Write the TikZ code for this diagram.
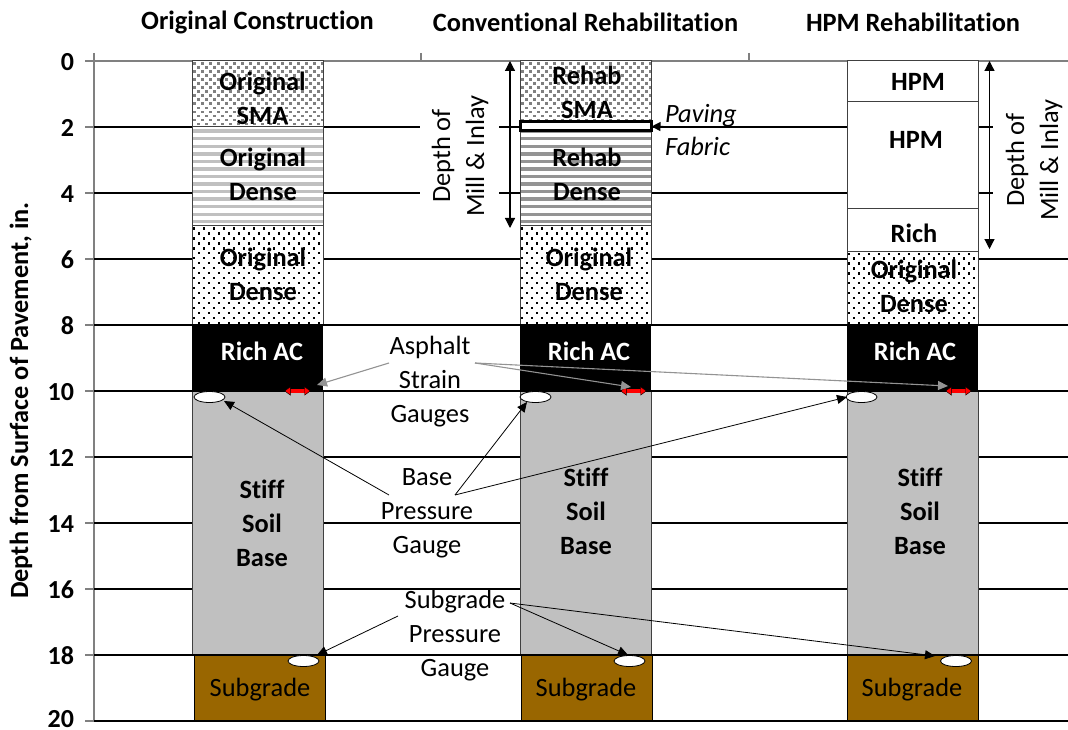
\documentclass[tikz,border=0pt]{standalone}
\usepackage{fontspec}
\setmainfont[Ligatures=NoCommon]{Carlito}
\usetikzlibrary{arrows.meta,shapes.geometric}
\definecolor{soil}{HTML}{996600}
\definecolor{basegray}{HTML}{C0C0C0}
\definecolor{framegray}{HTML}{808080}
\tikzset{
  every node/.style={inner sep=0pt,outer sep=0pt,align=center},
  title/.style={font=\fontsize{26.4}{28}\selectfont\bfseries},
  ticklab/.style={font=\fontsize{26}{28}\selectfont\bfseries,anchor=east},
  lab/.style={font=\fontsize{26.4}{34}\selectfont},
  blab/.style={font=\fontsize{26.4}{34}\selectfont\bfseries},
  ilab/.style={font=\fontsize{26.4}{33}\selectfont\itshape,align=left},
  gridln/.style={black,line width=1.4pt},
  axisline/.style={framegray,line width=1.1pt},
  layer/.style={draw=black!75,line width=1pt},
  leader/.style={black,line width=.8pt,-{Triangle[length=10pt,width=9pt]}},
  grayleader/.style={gray!85,line width=1.1pt,-{Triangle[length=10pt,width=9pt]}},
  depth/.style={black,line width=1.2pt,{Triangle[length=10pt,width=10pt]}-{Triangle[length=10pt,width=10pt]}},
  strain/.style={red,line width=3.4pt,{Triangle[length=6pt,width=9pt,fill=red,color=black,line width=.4pt]}-{Triangle[length=6pt,width=9pt,fill=red,color=black,line width=.4pt]}},
  gaugeell/.style={draw=black,fill=white,line width=.8pt,ellipse,minimum width=31pt,minimum height=11pt},
}
% x0 x1 y0 y1
\newcommand{\checklayer}[4]{%
  \begin{scope}\clip (#1,#3) rectangle (#2,#4);
  \fill[white] (#1,#3) rectangle (#2,#4);
  \pgfmathsetmacro{\nrows}{int((#4-#3)/4.05)}
  \foreach \r in {0,...,\nrows}{
    \pgfmathsetmacro{\off}{mod(\r,2)*4}
    \foreach \c in {0,...,17}{
      \fill[framegray] ({#1+1+\off+8*\c},{#3+1+4.05*\r}) rectangle +(3.4,2.6);
    }}
  \end{scope}
  \draw[layer] (#1,#3) rectangle (#2,#4);}
\newcommand{\stripelayer}[5]{%
  \begin{scope}\clip (#1,#3) rectangle (#2,#4);
  \fill[white] (#1,#3) rectangle (#2,#4);
  \foreach \r in {0,...,13}{
    \fill[#5] (#1,{#3+2.5+7.55*\r}) rectangle (#2,{#3+5.9+7.55*\r});
  }
  \end{scope}
  \draw[layer] (#1,#3) rectangle (#2,#4);}
\newcommand{\dotlayer}[4]{%
  \begin{scope}\clip (#1,#3) rectangle (#2,#4);
  \fill[white] (#1,#3) rectangle (#2,#4);
  \pgfmathsetmacro{\nrows}{int((#4-#3)/4.95)}
  \foreach \r in {0,...,\nrows}{
    \pgfmathsetmacro{\off}{mod(\r,2)*5}
    \foreach \c in {0,...,14}{
      \fill[black] ({#1+1+\off+10*\c},{#3+1.5+4.95*\r}) rectangle +(2.2,2.2);
    }}
  \end{scope}
  \draw[layer] (#1,#3) rectangle (#2,#4);}
\begin{document}
\begin{tikzpicture}[x=1pt,y=-1pt]
\useasboundingbox (0,0) rectangle (1068,730);
\fill[white] (0,0) rectangle (1068,730);
% top axis and frame
\draw[axisline] (85,61) -- (1068,61);
\draw[axisline] (94,53) -- (94,721);
\draw[axisline] (421,53) -- (421,61);
\draw[axisline] (749,53) -- (749,61);
% grid lines
\foreach \d in {6,8,...,20}{
  \draw[gridln] (94,61+33*\d) -- (1068,61+33*\d);
}
\foreach \d in {2,4}{
  \draw[gridln] (94,61+33*\d) -- (420,61+33*\d);
  \draw[gridln] (499,61+33*\d) -- (993,61+33*\d);
}
\foreach \d in {2,4,...,20}{
  \draw[axisline] (85,61+33*\d) -- (94,61+33*\d);
}
\foreach \d in {0,2,...,18}{
  \node[ticklab] (tick\d) at (74,62+33*\d) {\d};
}
\node[ticklab] (tick20) at (74,719) {20};
\node[font=\fontsize{26.3}{28}\selectfont\bfseries,rotate=90] (ytitle) at (21,400.5) {Depth from Surface of Pavement, in.};
\node[title] (t1) at (257.5,22) {Original Construction};
\node[title] (t2) at (585.5,22) {Conventional Rehabilitation};
\node[title] (t3) at (913,22) {HPM Rehabilitation};
% column 1
\checklayer{192}{323}{61}{127}
\stripelayer{192}{323}{127}{226}{basegray}
\dotlayer{192}{323}{226}{325}
\fill[black] (192,325) rectangle (323,391);
\draw[layer,fill=basegray] (192,391) rectangle (323,655);
\draw[black,line width=1pt,fill=soil] (194,655) rectangle (325,721);
% column 2
\checklayer{520}{651}{61}{127}
\stripelayer{520}{651}{127}{226}{black!42}
\dotlayer{520}{651}{226}{325}
\fill[black] (520,325) rectangle (651,391);
\draw[layer,fill=basegray] (520,391) rectangle (651,655);
\draw[black,line width=1pt,fill=soil] (521,655) rectangle (652,721);
% column 3
\draw[layer,fill=white] (847,61) rectangle (978,102);
\draw[layer,fill=white] (847,102) rectangle (978,209);
\draw[layer,fill=white] (847,209) rectangle (978,251);
\dotlayer{847}{978}{251}{325}
\fill[black] (847,325) rectangle (978,391);
\draw[layer,fill=basegray] (847,391) rectangle (978,655);
\draw[black,line width=1pt,fill=soil] (847,655) rectangle (978,721);
% redraw grid at layer borders
\foreach \d in {8,10,18,20}{
  \draw[gridln] (94,61+33*\d) -- (1068,61+33*\d);
}
% paving fabric
\node[draw=black,fill=white,line width=3pt,minimum width=131pt,minimum height=9pt] (fabric) at (586,126.5) {};
% layer labels
\node[blab] (a1) at (262.5,98.5) {Original\\SMA};
\node[blab] (a2) at (263,174.5) {Original\\Dense};
\node[blab] (a3) at (263,274.5) {Original\\Dense};
\node[blab,text=white] (a4) at (262,351.5) {Rich AC};
\node[blab] (a5) at (262,523.5) {Stiff\\Soil\\Base};
\node[lab] (a6) at (260,690) {Subgrade};
\node[blab] (b1) at (587,92.5) {Rehab\\SMA};
\node[blab] (b2) at (587,174.5) {Rehab\\Dense};
\node[blab] (b3) at (589,274.5) {Original\\Dense};
\node[blab,text=white] (b4) at (589,351.5) {Rich AC};
\node[blab] (b5) at (586,511.5) {Stiff\\Soil\\Base};
\node[lab] (b6) at (586,690) {Subgrade};
\node[blab] (c1) at (918,82) {HPM};
\node[blab] (c2) at (916,140) {HPM};
\node[blab] (c3) at (914,233) {Rich};
\node[blab] (c4) at (914,286.5) {Original\\Dense};
\node[blab,text=white] (c5) at (915,351.5) {Rich AC};
\node[blab] (c6) at (920,511.5) {Stiff\\Soil\\Base};
\node[lab] (c7) at (912,690) {Subgrade};
% gauges
\foreach \n/\x/\y in {p1/209.5/397,p2/535.5/397,p3/861.5/397,s1/303.5/661,s2/629.5/661,s3/956/661}{
  \node[gaugeell] (\n) at (\x,\y) {};
}
\foreach \n/\x in {g1/297.5,g2/633.5,g3/958.5}{
  \coordinate (\n l) at (\x-13,391);
  \coordinate (\n r) at (\x+13,391);
  \draw[strain] (\n l) -- (\n r);
}
% callouts
\node[lab] (asg) at (430,381.5) {Asphalt\\Strain\\Gauges};
\node[lab] (bpg) at (427,513) {Base\\Pressure\\Gauge};
\node[lab] (spg) at (455,636) {Subgrade\\Pressure\\Gauge};
\coordinate (asgL) at (389,363);
\coordinate (asgR) at (475,363);
\coordinate (bpgL) at (389,495);
\coordinate (bpgR) at (455,495);
\coordinate (spgL) at (398,616);
\coordinate (spgR) at (510,603);
\coordinate (g1tip) at (317,385);
\coordinate (g2tip) at (631,387);
\coordinate (g3tip) at (948,386);
\coordinate (p1tip) at (224,401);
\coordinate (p2tip) at (527,402);
\coordinate (p3tip) at (847,397);
\coordinate (s1tip) at (317,655);
\coordinate (s2tip) at (628,655);
\coordinate (s3tip) at (935,656);
\draw[grayleader] (asgL) -- (g1tip);
\draw[grayleader] (asgR) -- (g2tip);
\draw[grayleader] (asgR) -- (g3tip);
\draw[leader] (bpgL) -- (p1tip);
\draw[leader] (bpgR) -- (p2tip);
\draw[leader] (bpgR) -- (p3tip);
\draw[leader] (spgL) -- (s1tip);
\draw[leader] (spgR) -- (s2tip);
\draw[leader] (spgR) -- (s3tip);
% depth arrows
\coordinate (d1t) at (510,61);
\coordinate (d1b) at (510,228);
\coordinate (d2t) at (989.5,61);
\coordinate (d2b) at (989.5,249);
\draw[depth] (d1t) -- (d1b);
\draw[depth] (d2t) -- (d2b);
\node[lab,rotate=90] (dm1) at (460,156) {Depth of\\Mill \& Inlay};
\node[lab,rotate=90] (dm2) at (1034,160) {Depth of\\Mill \& Inlay};
% paving fabric label
\node[ilab,anchor=west] (pf) at (665,130.5) {Paving\\Fabric};
\coordinate (pftail) at (710,127);
\draw[black,line width=1.2pt,-{Triangle[length=9pt,width=9pt]}] (pftail) -- (fabric.east);
\end{tikzpicture}
\end{document}
